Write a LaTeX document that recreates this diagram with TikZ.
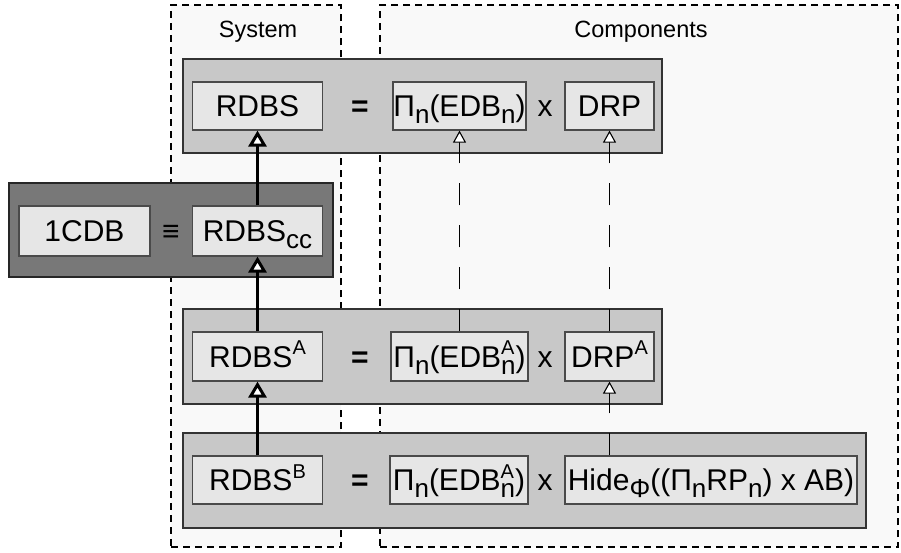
\documentclass[tikz,border=0pt]{standalone}
\usepackage{fontspec}
\setmainfont{Liberation Sans}
\usetikzlibrary{arrows.meta}
\definecolor{contfill}{HTML}{F9F9F9}
\definecolor{grayfill}{HTML}{C8C8C8}
\definecolor{darkfill}{HTML}{787878}
\definecolor{innerfill}{HTML}{E6E6E6}
\definecolor{edgecol}{HTML}{333333}
\definecolor{termedge}{HTML}{4A4A4A}
\newcommand{\bigfont}{\fontsize{30}{36}\selectfont}
\newcommand{\lowsub}[1]{\raisebox{-7pt}{\fontsize{26}{26}\selectfont #1}}
\newcommand{\highsup}[1]{\raisebox{12.5pt}{\fontsize{20}{20}\selectfont #1}}
\newcommand{\supsubstack}[2]{\rlap{\highsup{#1}}\lowsub{#2}}
\tikzset{
  container/.style={draw=black, fill=contfill, line width=1.1pt, dash pattern=on 7pt off 5pt, inner sep=0pt},
  rowbox/.style={draw=edgecol, fill=grayfill, line width=1.5pt, inner sep=0pt},
  darkbox/.style={draw=black!85, fill=darkfill, line width=1.5pt, inner sep=0pt},
  term/.style={draw=termedge, fill=innerfill, line width=1.2pt, inner sep=0pt,
    minimum height=48pt, text height=21.5pt, text depth=0pt, font=\bigfont},
  op/.style={inner sep=0pt, font=\bigfont, text height=21.5pt, text depth=0pt},
  lbl/.style={font=\fontsize{23.5}{28}\selectfont, inner sep=0pt, anchor=base},
  refine/.style={line width=3pt, -{Triangle[width=18pt,length=16pt,fill=white]}},
  trace/.style={line width=1.1pt, dash pattern=on 22pt off 20pt,
    -{Triangle[width=13pt,length=12pt,fill=white]}},
}
\begin{document}
\begin{tikzpicture}[x=1pt,y=-1pt]
\useasboundingbox (0,0) rectangle (901,552);
% containers
\node[container, minimum width=170pt, minimum height=542pt] (sys) at (256,276) {};
\node[container, minimum width=518pt, minimum height=542pt] (comp) at (639,276) {};
\node[lbl] (syslbl) at (258,37) {System};
\node[lbl] (complbl) at (641,37) {Components};
% row 1
\node[rowbox, minimum width=479pt, minimum height=94pt] (row1) at (422.5,106) {};
\node[term, minimum width=130pt] (rdbs) at (257.5,106) {RDBS};
\node[op] (eq1) at (360,106) {\bfseries =};
\node[term, minimum width=133pt] (pi1) at (459.5,106) {Π\lowsub{n}(EDB\lowsub{n})};
\node[op] (x1) at (545,106) {x};
\node[term, minimum width=89pt] (drp) at (609.5,106) {DRP};
% dark row
\node[darkbox, minimum width=324pt, minimum height=94pt] (rowcc) at (171,230) {};
\node[term, minimum width=131pt, minimum height=50pt] (cdb) at (84.5,231) {1CDB};
\node[op] (equiv) at (171,231) {\bfseries ≡};
\node[term, minimum width=130pt, minimum height=50pt] (ccR) at (257.5,231) {RDBS\lowsub{cc}};
% row 3
\node[rowbox, minimum width=479pt, minimum height=95pt] (row3) at (422.5,356.5) {};
\node[term, minimum width=130pt, minimum height=49pt] (rdbsA) at (257.5,356.5) {RDBS\highsup{A}};
\node[op] (eq3) at (360,356.5) {\bfseries =};
\node[term, minimum width=137pt, minimum height=49pt] (piA) at (459.5,356.5) {Π\lowsub{n}(EDB\supsubstack{A}{n})};
\node[op] (x3) at (545,356.5) {x};
\node[term, minimum width=89pt, minimum height=49pt] (drpA) at (609.5,356.5) {DRP\highsup{A}};
% row 4
\node[rowbox, minimum width=683pt, minimum height=95pt] (row4) at (524.5,480.5) {};
\node[term, minimum width=130pt] (rdbsB) at (257.5,480) {RDBS\highsup{B}};
\node[op] (eq4) at (360,480) {\bfseries =};
\node[term, minimum width=138pt] (piB) at (459,480) {Π\lowsub{n}(EDB\supsubstack{A}{n})};
\node[op] (x4) at (545,480) {x};
\node[term, minimum width=292pt] (hide) at (711,480) {Hide\lowsub{Φ}((Π\lowsub{n}RP\lowsub{n}) x AB)};
% refinement arrows
\draw[refine] (ccR.north) -- (rdbs.south);
\draw[refine] (rdbsA.north) -- (ccR.south);
\draw[refine] (rdbsB.north) -- (rdbsA.south);
% trace arrows
\draw[trace] (piA.north -| pi1.south) -- (pi1.south);
\draw[trace] (drpA.north) -- (drp.south);
\coordinate (hidetop) at (hide.north -| drpA.south);
\draw[trace] (hidetop) -- (drpA.south);
\end{tikzpicture}
\end{document}
